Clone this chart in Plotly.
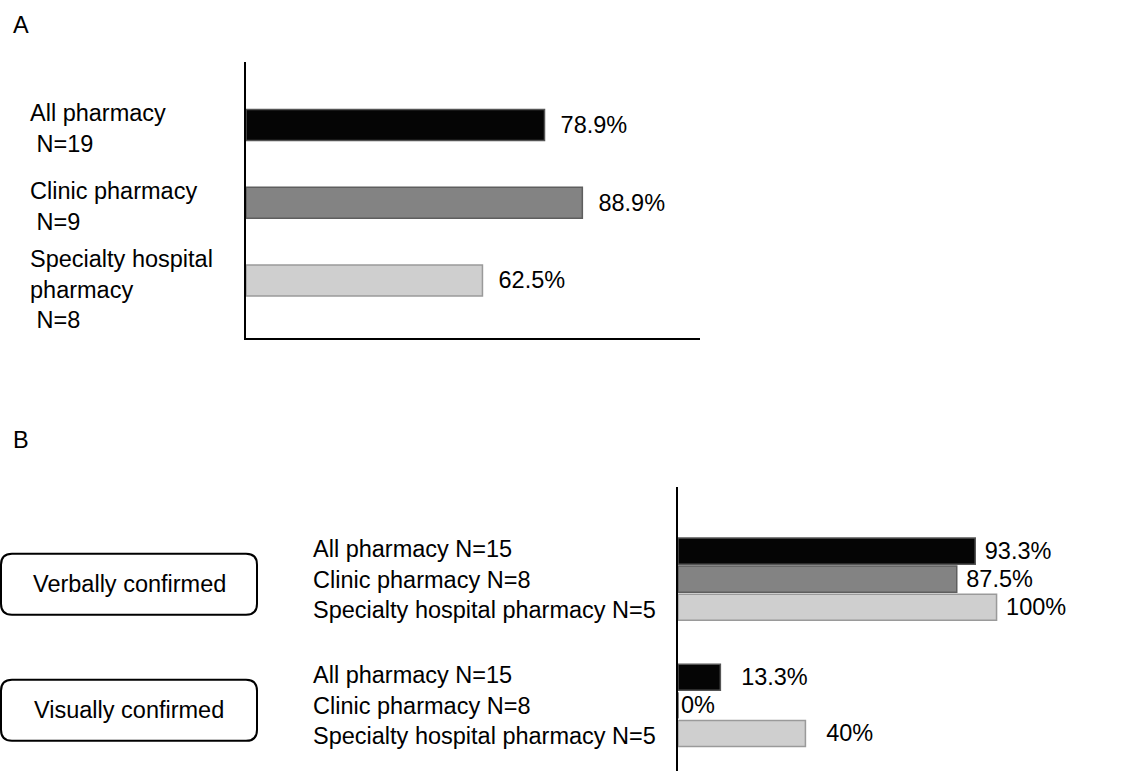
import plotly.graph_objects as go

# ---------------- data ----------------
a_categories = ["All pharmacy", "Clinic pharmacy", "Specialty hospital pharmacy"]
a_labels = ["All pharmacy<br>\u00a0N=19", "Clinic pharmacy<br>\u00a0N=9",
            "Specialty hospital<br>pharmacy<br>\u00a0N=8"]
a_values = [78.9, 88.9, 62.5]

b_categories = ["Verbally confirmed", "Visually confirmed"]
b_series_names = ["All pharmacy N=15", "Clinic pharmacy N=8", "Specialty hospital pharmacy N=5"]
b_all = [93.3, 13.3]
b_clinic = [87.5, 0]
b_specialty = [100, 40]

# ---------------- styling ----------------
W, H = 1134, 771
FONT = "Arial, Liberation Sans, sans-serif"
FS = 23.5
fills = ["#050505", "#838383", "#cfcfcf"]
edges = ["#555555", "#5e5e5e", "#9a9a9a"]
NB = "\u00a0"
b_pad = [NB, NB * 2 + "\u2009"]  # spacing before value labels, per group


def px(x):
    return x / W


def py(y):
    return 1 - y / H


def fmt(v):
    return f"{v:g}%"


fig = go.Figure()

# Panel A
fig.add_trace(go.Bar(
    y=a_categories, x=a_values, orientation="h", xaxis="x", yaxis="y",
    width=0.4,
    marker=dict(color=fills, line=dict(color=edges, width=1.5)),
    text=[NB * 2 + fmt(v) for v in a_values], textposition="outside",
    textfont=dict(size=FS, color="black", family=FONT),
    constraintext="none", cliponaxis=False, showlegend=False,
))

# Panel B
b_series = [b_all, b_clinic, b_specialty]
for i, (name, vals) in enumerate(zip(b_series_names, b_series)):
    texts = []
    for j, v in enumerate(vals):
        pad = "" if v == 0 else b_pad[j]
        texts.append(pad + fmt(v))
    fig.add_trace(go.Bar(
        y=b_categories, x=vals, orientation="h", name=name,
        xaxis="x2", yaxis="y2",
        marker=dict(color=fills[i], line=dict(color=edges[i], width=1.5)),
        text=texts, textposition="outside",
        textfont=dict(size=FS, color="black", family=FONT),
        constraintext="none", cliponaxis=False, showlegend=False,
    ))

annotations = []
# Panel letters
for letter, yy in (("A", 25), ("B", 440)):
    annotations.append(dict(text=letter, x=px(11), y=py(yy), xref="paper", yref="paper",
                            xanchor="left", yanchor="middle", showarrow=False,
                            font=dict(size=FS, family=FONT, color="black")))
# Panel A category labels
for cat, lab in zip(a_categories, a_labels):
    nlines = lab.count("<br>") + 1
    annotations.append(dict(text=lab, x=px(28), y=cat, xref="paper", yref="y",
                            xanchor="left", yanchor="middle", align="left",
                            yshift=-3.5 - 5.5 * (nlines - 2), showarrow=False,
                            font=dict(size=FS, family=FONT, color="black")))
# Panel B group labels and boxes
shapes = []
hw, hh, r, off = 128, 30.5, 11, -5
for cat in b_categories:
    annotations.append(dict(text="<br>".join(b_series_names), x=px(311), y=cat,
                            xref="paper", yref="y2", xanchor="left", yanchor="middle",
                            align="left", showarrow=False,
                            font=dict(size=FS, family=FONT, color="black")))
    annotations.append(dict(text=cat, x=px(129), y=cat, xref="paper", yref="y2",
                            xanchor="center", yanchor="middle", showarrow=False,
                            yshift=off,
                            font=dict(size=FS, family=FONT, color="black")))
    t, b = hh + off, -hh + off
    path = (f"M {-hw + r},{b} L {hw - r},{b} Q {hw},{b} {hw},{b + r} "
            f"L {hw},{t - r} Q {hw},{t} {hw - r},{t} L {-hw + r},{t} "
            f"Q {-hw},{t} {-hw},{t - r} L {-hw},{b + r} Q {-hw},{b} {-hw + r},{b} Z")
    shapes.append(dict(type="path", path=path, xref="paper", yref="y2",
                       xsizemode="pixel", ysizemode="pixel",
                       xanchor=px(129), yanchor=cat,
                       line=dict(color="black", width=2), fillcolor="rgba(0,0,0,0)"))

fig.update_layout(
    width=W, height=H,
    margin=dict(l=0, r=0, t=0, b=0),
    paper_bgcolor="white", plot_bgcolor="white",
    barmode="group", bargap=0.333, bargroupgap=0.07,
    font=dict(family=FONT, size=FS, color="black"),
    xaxis=dict(domain=[px(246), px(700)], range=[0, 120], showline=True,
               linecolor="black", linewidth=2, showticklabels=False, ticks="",
               showgrid=False, zeroline=False, anchor="y"),
    yaxis=dict(domain=[py(338), py(62)], range=[2.74, -0.81], type="category",
               showline=True, linecolor="black", linewidth=2, showticklabels=False,
               ticks="", showgrid=False, zeroline=False, anchor="x"),
    xaxis2=dict(domain=[px(678), px(1124)], range=[0, 140], showline=False,
                showticklabels=False, ticks="", showgrid=False, zeroline=False,
                anchor="y2"),
    yaxis2=dict(domain=[0, py(487)], range=[1.52, -0.73], type="category",
                showline=True, linecolor="black", linewidth=2, showticklabels=False,
                ticks="", showgrid=False, zeroline=False, anchor="x2"),
    annotations=annotations,
    shapes=shapes,
)

fig.write_html("out.html")
